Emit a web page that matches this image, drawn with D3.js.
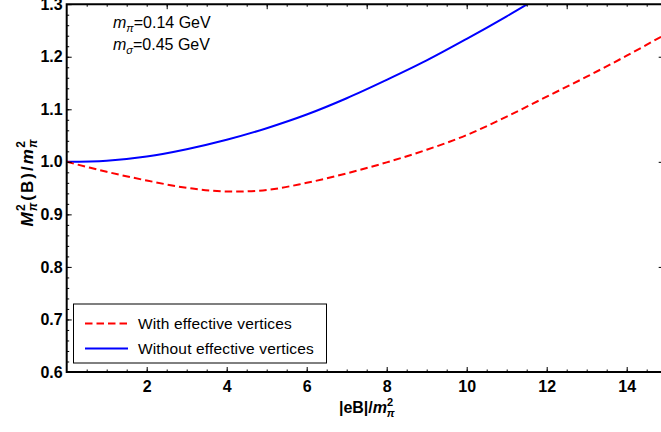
<!DOCTYPE html>
<html>
<head>
<meta charset="utf-8">
<script src="https://cdn.jsdelivr.net/npm/d3@7"></script>
<style>
body { margin: 0; background: #fff; }
text { font-family: "Liberation Sans", Arial, sans-serif; }
</style>
</head>
<body>
<svg id="graph"></svg>
<script>
// values
var xWith = [0, 1, 2, 3, 4, 5, 6, 7, 8, 9, 10, 11, 12, 13, 14, 15];
var withVertices = [1.000, 0.981, 0.9645, 0.9505, 0.9435, 0.9465, 0.960, 0.978, 0.999, 1.023, 1.051, 1.086, 1.124, 1.162, 1.202, 1.244];
var xWithout = [0, 1, 2, 3, 4, 5, 6, 7, 8, 9, 10, 11, 12];
var withoutVertices = [1.000, 1.002, 1.010, 1.024, 1.042, 1.064, 1.090, 1.121, 1.156, 1.193, 1.234, 1.277, 1.322];
var xMajor = [2, 4, 6, 8, 10, 12, 14];
var yMajor = [0.6, 0.7, 0.8, 0.9, 1.0, 1.1, 1.2, 1.3];
var seriesNames = ["With effective vertices", "Without effective vertices"];

var width = 661, height = 432;
var padL = 66.7, padR = 666.7, padT = 4.2, padB = 372;

var svg = d3.select("#graph").attr("width", width).attr("height", height);

var xScale = d3.scaleLinear().domain([0, 15]).range([padL, padR]);
var yScale = d3.scaleLinear().domain([0.6, 1.3]).range([padB, padT]);

svg.append("clipPath").attr("id", "clip")
	.append("rect").attr("x", padL).attr("y", padT)
	.attr("width", padR - padL).attr("height", padB - padT);

var plot = svg.append("g").attr("clip-path", "url(#clip)");

var line = d3.line()
	.x(function(d){ return xScale(d[0]); })
	.y(function(d){ return yScale(d[1]); })
	.curve(d3.curveCatmullRom.alpha(0.5));

plot.append("path")
	.datum(d3.zip(xWithout, withoutVertices))
	.attr("d", line)
	.style("stroke", "#0000ff").style("stroke-width", 2).style("fill", "none");

plot.append("path")
	.datum(d3.zip(xWith, withVertices))
	.attr("d", line)
	.style("stroke", "#ff0000").style("stroke-width", 2)
	.style("stroke-dasharray", "7.5,4").style("fill", "none");

// minor ticks
var xMinor = d3.range(0.5, 15, 0.5);
var yMinor = d3.range(0.62, 1.3, 0.02);

function clean(g){
	g.select(".domain").remove();
	g.selectAll("text").remove();
}

svg.append("g").attr("transform", "translate(0," + padB + ")")
	.call(d3.axisBottom(xScale).tickValues(xMinor).tickSize(-2.5)).call(clean);
svg.append("g").attr("transform", "translate(" + padL + ",0)")
	.call(d3.axisLeft(yScale).tickValues(yMinor).tickSize(-2.5)).call(clean);
svg.append("g").attr("transform", "translate(0," + padT + ")")
	.call(d3.axisTop(xScale).tickValues(xMinor).tickSize(-2.5)).call(clean);
svg.append("g").attr("transform", "translate(0," + padT + ")")
	.call(d3.axisTop(xScale).tickValues([2.5, 5, 7.5, 10, 12.5]).tickSize(-5)).call(clean);
svg.append("g").attr("transform", "translate(" + padR + ",0)")
	.call(d3.axisRight(yScale).tickValues([0.6, 0.8, 1.0, 1.2]).tickSize(-8)).call(clean);

var xAxis = svg.append("g").attr("transform", "translate(0," + padB + ")")
	.call(d3.axisBottom(xScale).tickValues(xMajor).tickSize(-5).tickPadding(9).tickFormat(d3.format("d")));
var yAxis = svg.append("g").attr("transform", "translate(" + padL + ",0)")
	.call(d3.axisLeft(yScale).tickValues(yMajor).tickSize(-5).tickPadding(4).tickFormat(d3.format(".1f")));

[xAxis, yAxis].forEach(function(g){
	g.select(".domain").remove();
	g.selectAll("text").style("font-size", "16px").style("font-weight", "bold")
		.style("font-family", "'Liberation Sans', Arial, sans-serif").attr("fill", "#000");
});

svg.selectAll(".tick line").attr("stroke", "#000");

// frame
svg.append("path")
	.attr("d", "M" + padR + "," + padT + "H" + padL + "V" + padB + "H" + padR)
	.style("stroke", "#000").style("stroke-width", 2).style("fill", "none");

// axis titles
var xt = svg.append("text").attr("x", (padL + padR) / 2).attr("y", 413)
	.attr("text-anchor", "middle").style("font-size", "16px").style("font-weight", "bold");
xt.append("tspan").text("|eB|/");
xt.append("tspan").style("font-style", "italic").text("m");
xt.append("tspan").attr("dy", -7).style("font-size", "11px").text("2");
xt.append("tspan").attr("dx", -6.5).attr("dy", 11).style("font-size", "11px").style("font-style", "italic").text("π");

var yt = svg.append("text").attr("transform", "translate(32.5,183) rotate(-90)")
	.attr("text-anchor", "middle").style("font-size", "17px").style("font-weight", "bold");
yt.append("tspan").style("font-style", "italic").text("M");
yt.append("tspan").attr("dx", 1.5).attr("dy", -7.5).style("font-size", "12px").text("2");
yt.append("tspan").attr("dx", -7).attr("dy", 11.5).style("font-size", "12px").style("font-style", "italic").text("π");
yt.append("tspan").attr("dx", 2).attr("dy", -4).style("letter-spacing", "2px").text("(B)/");
yt.append("tspan").style("font-style", "italic").text("m");
yt.append("tspan").attr("dx", 1.5).attr("dy", -7.5).style("font-size", "12px").text("2");
yt.append("tspan").attr("dx", -7).attr("dy", 11.5).style("font-size", "12px").style("font-style", "italic").text("π");

// parameter labels
var params = [["π", "0.14", 27.5], ["σ", "0.45", 49.5]];
params.forEach(function(p){
	var t = svg.append("text").attr("x", 113).attr("y", p[2]).style("font-size", "16px");
	t.append("tspan").style("font-style", "italic").text("m");
	t.append("tspan").attr("dy", 4).style("font-size", "11px").style("font-style", "italic").text(p[0]);
	t.append("tspan").attr("dy", -4).text("=" + p[1] + " GeV");
});

// legend
var legend = svg.append("g");
legend.append("rect").attr("x", 73.5).attr("y", 304).attr("width", 253).attr("height", 59)
	.style("fill", "#fff").style("stroke", "#000").style("stroke-width", 1);
var styles = [{c: "#ff0000", dash: "7.5,4"}, {c: "#0000ff", dash: null}];
seriesNames.forEach(function(name, i){
	var yy = 323.5 + i * 25;
	legend.append("line").attr("x1", 85).attr("x2", 128).attr("y1", yy).attr("y2", yy)
		.style("stroke", styles[i].c).style("stroke-width", 2)
		.style("stroke-dasharray", styles[i].dash);
	legend.append("text").attr("x", 138).attr("y", yy + 5.5).style("font-size", "15.5px")
		.style("letter-spacing", "0.15px").text(name);
});
</script>
</body>
</html>
